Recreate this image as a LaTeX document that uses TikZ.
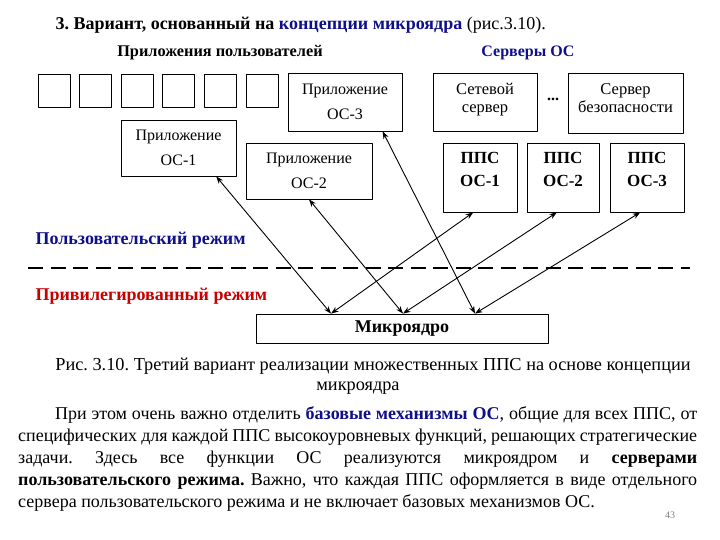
\documentclass[tikz,border=0pt]{standalone}
\usepackage{fontspec}
\setmainfont{Liberation Serif}
\usepackage{tikz}
\usetikzlibrary{arrows.meta, calc}
\usepackage{xcolor}
\definecolor{darkblue}{RGB}{15,15,140}
\definecolor{darkred}{RGB}{200,0,0}
\frenchspacing

\begin{document}
\begin{tikzpicture}[x=1pt, y=-1pt, line join=round,
    box/.style={draw, line width=0.8pt, inner sep=0pt, align=center},
    userbox/.style={box, minimum width=32pt, minimum height=33pt},
    appbox/.style={box, font=\fontsize{16}{17}\selectfont},
    srvbox/.style={box, font=\fontsize{16.5}{18}\selectfont, text depth=9pt},
    ppsbox/.style={box, font=\fontsize{17}{23}\selectfont\bfseries, text depth=17pt},
    link/.style={line width=0.9pt, {Stealth[length=7.5pt,width=5.5pt]}-{Stealth[length=7.5pt,width=5.5pt]}}
]
    \useasboundingbox (0,0) rectangle (720,540);

    % ==========================================
    % HEADINGS
    % ==========================================

    \node[anchor=west, font=\fontsize{18}{20}\selectfont] (title) at (52,25)
        {\bfseries 3. Вариант, основанный на \textcolor{darkblue}{концепции микроядра}\mdseries{} (рис.3.10).};
    \node[font=\fontsize{16.3}{18}\selectfont\bfseries] (users) at (220,53) {Приложения пользователей};
    \node[font=\fontsize{16}{18}\selectfont\bfseries, text=darkblue] (servers) at (528,53) {Серверы ОС};

    % ==========================================
    % USER MODE BOXES
    % ==========================================

    % six empty user applications
    \foreach \i in {0,...,5}
        \node[userbox] (u\i) at ({54+41.6*\i},90.5) {};

    \node[appbox, minimum width=114pt, minimum height=58pt] (app3) at (345,102) {Приложение\\[8pt]ОС-3};
    \node[srvbox, minimum width=104pt, minimum height=58pt] (net) at (485,102) {Сетевой\\сервер};
    \node[srvbox, minimum width=115pt, minimum height=60pt] (sec) at (625.5,103) {Сервер\\безопасности};
    \node[font=\fontsize{16}{18}\selectfont\bfseries] (dots) at (553,99) {...};

    \node[appbox, minimum width=115pt, minimum height=56pt] (app1) at (178.5,148) {Приложение\\[8pt]ОС-1};
    \node[appbox, minimum width=126pt, minimum height=56pt] (app2) at (309,171) {Приложение\\[8pt]ОС-2};

    \node[ppsbox, minimum width=74pt, minimum height=69pt] (pps1) at (480,177.5) {ППС\\ОС-1};
    \node[ppsbox, minimum width=72pt, minimum height=69pt] (pps2) at (563,177.5) {ППС\\ОС-2};
    \node[ppsbox, minimum width=74pt, minimum height=69pt] (pps3) at (647,177.5) {ППС\\ОС-3};

    % ==========================================
    % MODE BORDER AND KERNEL
    % ==========================================

    \node[anchor=west, font=\fontsize{18}{20}\selectfont\bfseries, text=darkblue] (usermode) at (32,240) {Пользовательский режим};
    \coordinate (borderL) at (28,268);
    \coordinate (borderR) at (690,268);
    \draw[line width=1.6pt, dash pattern=on 15pt off 7.5pt] (borderL) -- (borderR);
    \node[anchor=west, font=\fontsize{18}{20}\selectfont\bfseries, text=darkred] (privmode) at (32,296) {Привилегированный режим};

    \node[box, minimum width=292pt, minimum height=29pt, font=\fontsize{18}{20}\selectfont\bfseries] (kernel) at (402,328.5) {Микроядро};

    % entry points on top of the kernel, one per OS
    \coordinate (k1) at ($(kernel.north)+(-71,0)$);
    \coordinate (k2) at ($(kernel.north)+(1,0)$);
    \coordinate (k3) at ($(kernel.north)+(73,0)$);

    \draw[link] (app1.-37) -- (k1);
    \draw[link] (pps1.-101) -- (k1);
    \draw[link] (app2.south) -- (k2);
    \draw[link] (pps2.-100) -- (k2);
    \draw[link] (app3.-38) -- (k3);
    \draw[link] (pps3.-101) -- (k3);

    % ==========================================
    % CAPTION AND TEXT
    % ==========================================

    \node[align=center, font=\fontsize{18.3}{20}\selectfont] (caption) at (373,376)
        {Рис. 3.10. Третий вариант реализации множественных ППС на основе концепции\\\hspace*{-30pt}микроядра};

    \node[anchor=base west, inner sep=0pt, font=\fontsize{18}{22}\selectfont] (text) at (18,419)
        {\parbox[t]{679pt}{\hspace*{37pt}При этом очень важно отделить \textcolor{darkblue}{\bfseries базовые механизмы ОС}, общие для всех ППС, от\linebreak
        специфических для каждой ППС высокоуровневых функций, решающих стратегические\linebreak
        задачи. Здесь все функции ОС реализуются микроядром и \textbf{серверами}\linebreak
        \textbf{пользовательского режима.} Важно, что каждая ППС оформляется в виде отдельного\linebreak
        сервера пользовательского режима и не включает базовых механизмов ОС.}};

    \node[font=\fontsize{10}{12}\selectfont, text=gray] (page) at (670,515) {43};

\end{tikzpicture}
\end{document}
